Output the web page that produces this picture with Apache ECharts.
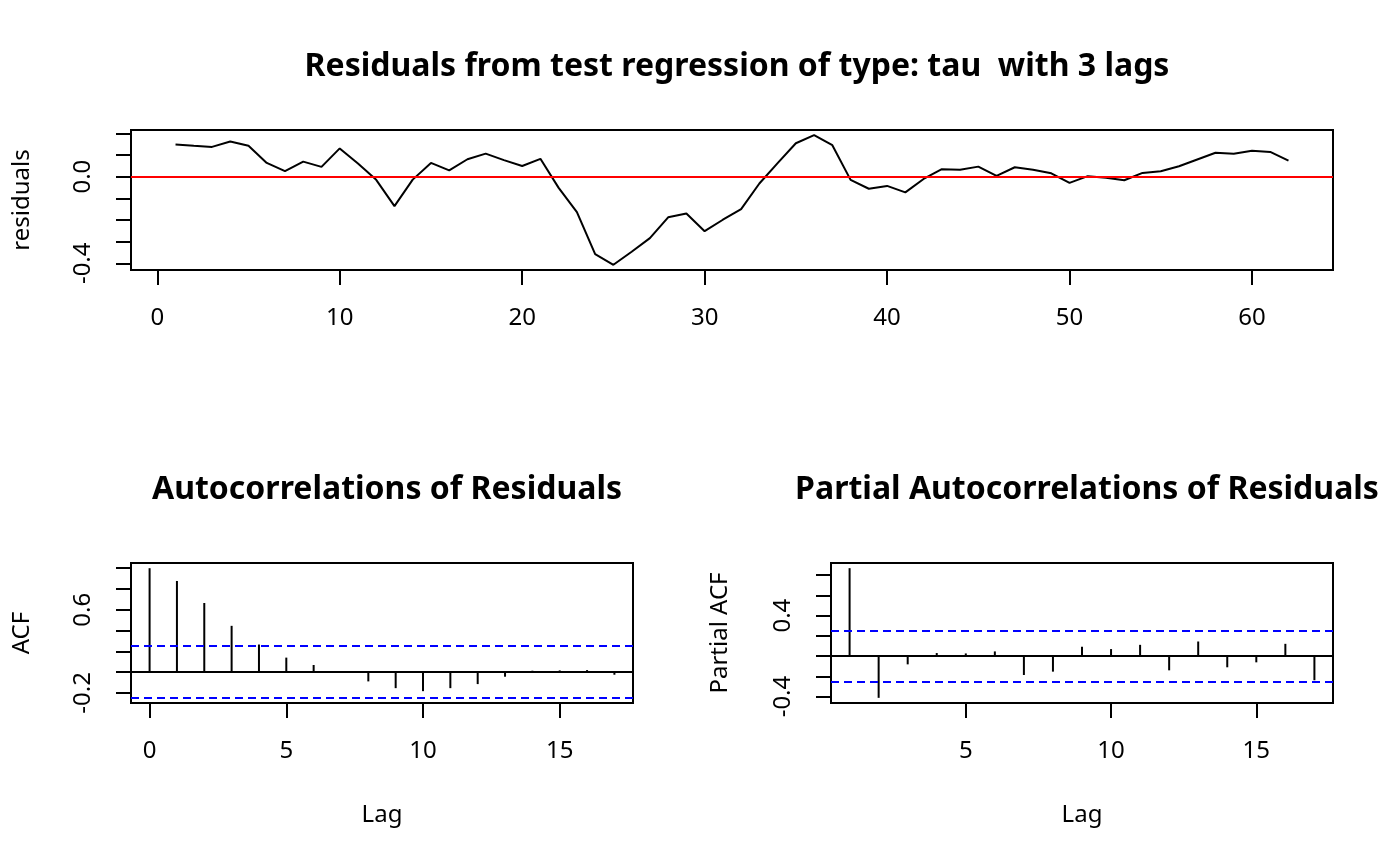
<!DOCTYPE html>
<html>
<head>
<meta charset="utf-8">
<script src="https://cdn.jsdelivr.net/npm/echarts@6/dist/echarts.min.js"></script>
<style>
html,body{margin:0;padding:0;background:#fff;}
#chart{width:1400px;height:866px;}
</style>
</head>
<body>
<div id="chart"></div>
<script>
// Residuals (time index 1..62)
const residuals = [0.148, 0.142, 0.137, 0.162, 0.142, 0.063, 0.025, 0.069, 0.045, 0.130,
  0.060, -0.015, -0.136, -0.014, 0.063, 0.029, 0.080, 0.106, 0.076, 0.049,
  0.082, -0.052, -0.164, -0.358, -0.407, -0.347, -0.284, -0.188, -0.170, -0.252,
  -0.199, -0.150, -0.032, 0.062, 0.154, 0.191, 0.145, -0.015, -0.056, -0.043,
  -0.073, -0.011, 0.034, 0.032, 0.046, 0.003, 0.043, 0.032, 0.015, -0.029,
  0.002, -0.005, -0.017, 0.017, 0.025, 0.048, 0.079, 0.110, 0.105, 0.119,
  0.114, 0.074];
// ACF, lags 0..17
const acfLags = [0,1,2,3,4,5,6,7,8,9,10,11,12,13,14,15,16,17];
const acfValues = [1.0, 0.877, 0.665, 0.445, 0.265, 0.139, 0.068, 0.006, -0.09, -0.155,
  -0.184, -0.155, -0.116, -0.045, 0.013, 0.016, 0.019, -0.026];
// PACF, lags 1..17
const pacfLags = [1,2,3,4,5,6,7,8,9,10,11,12,13,14,15,16,17];
const pacfValues = [0.869, -0.413, -0.082, 0.03, 0.026, 0.046, -0.187, -0.154, 0.092, 0.069,
  0.111, -0.141, 0.144, -0.111, -0.062, 0.121, -0.239];
const ciBound = 0.249;

// Tick labels
const resXTicks = [0,10,20,30,40,50,60];
const resYTicks = [-0.4,-0.3,-0.2,-0.1,0.0,0.1,0.2];
const resYLabels = [-0.4, 0.0];
const acfXTicks = [0,5,10,15];
const acfYTicks = [-0.2,0,0.2,0.4,0.6,0.8,1.0];
const acfYLabels = [-0.2, 0.6];
const pacfXTicks = [5,10,15];
const pacfYTicks = [-0.4,-0.2,0,0.2,0.4,0.6,0.8];
const pacfYLabels = [-0.4, 0.4];

const mainTitle = 'Residuals from test regression of type: tau  with 3 lags';
const acfTitle = 'Autocorrelations of Residuals';
const pacfTitle = 'Partial Autocorrelations of Residuals';

const FONT = 'Noto Sans';
const FS = 24;
const TFS = 32;
const LW = 2;

function xAxisDef(gi, min, max, ticks, name) {
  return {
    type: 'value', gridIndex: gi, min: min, max: max,
    splitLine: {show: false},
    axisLine: {show: false, onZero: false},
    axisTick: {show: true, inside: false, length: 15, customValues: ticks,
      lineStyle: {color: '#000', width: LW}},
    axisLabel: {show: true, customValues: ticks, margin: 36, color: '#000',
      fontFamily: FONT, fontSize: FS, formatter: v => String(Math.round(v))},
    name: name || '', nameLocation: 'middle', nameGap: 100,
    nameTextStyle: {color: '#000', fontFamily: FONT, fontSize: FS}
  };
}
function yAxisDef(gi, min, max, ticks, labels, name, gap) {
  return {
    type: 'value', gridIndex: gi, min: min, max: max,
    splitLine: {show: false},
    axisLine: {show: false, onZero: false},
    axisTick: {show: true, inside: false, length: 15, customValues: ticks,
      lineStyle: {color: '#000', width: LW}},
    axisLabel: {show: true, customValues: labels, rotate: 90, margin: 36, color: '#000',
      fontFamily: FONT, fontSize: FS, formatter: v => v.toFixed(1)},
    name: name, nameLocation: 'middle', nameRotate: 90, nameGap: gap,
    nameTextStyle: {color: '#000', fontFamily: FONT, fontSize: FS}
  };
}

const ciLines = {
  silent: true, symbol: 'none', label: {show: false},
  data: [
    {yAxis: 0, lineStyle: {color: '#000', type: 'solid', width: LW}},
    {yAxis: ciBound, lineStyle: {color: '#0000ff', type: [8, 5], width: LW}},
    {yAxis: -ciBound, lineStyle: {color: '#0000ff', type: [8, 5], width: LW}}
  ]
};

const chart = echarts.init(document.getElementById('chart'), null, {renderer: 'canvas'});
chart.setOption({
  backgroundColor: '#fff',
  animation: false,
  title: [
    {text: mainTitle, left: 732, top: 46, textAlign: 'center',
      textStyle: {fontFamily: FONT, fontSize: TFS, fontWeight: 'bold', color: '#000'}},
    {text: acfTitle, left: 382, top: 469, textAlign: 'center',
      textStyle: {fontFamily: FONT, fontSize: TFS, fontWeight: 'bold', color: '#000'}},
    {text: pacfTitle, left: 1082, top: 469, textAlign: 'center',
      textStyle: {fontFamily: FONT, fontSize: TFS, fontWeight: 'bold', color: '#000'}}
  ],
  grid: [
    {left: 131, top: 130, width: 1202, height: 140, show: true, borderColor: '#000', borderWidth: LW, backgroundColor: 'transparent'},
    {left: 131, top: 563, width: 502, height: 140, show: true, borderColor: '#000', borderWidth: LW, backgroundColor: 'transparent'},
    {left: 831, top: 563, width: 502, height: 140, show: true, borderColor: '#000', borderWidth: LW, backgroundColor: 'transparent'}
  ],
  xAxis: [
    xAxisDef(0, -1.44, 64.44, resXTicks, ''),
    xAxisDef(1, -0.68, 17.68, acfXTicks, 'Lag'),
    xAxisDef(2, 0.36, 17.64, pacfXTicks, 'Lag')
  ],
  yAxis: [
    yAxisDef(0, -0.431, 0.215, resYTicks, resYLabels, 'residuals', 97),
    yAxisDef(1, -0.298, 1.05, acfYTicks, acfYLabels, 'ACF', 97),
    yAxisDef(2, -0.464, 0.92, pacfYTicks, pacfYLabels, 'Partial ACF', 99)
  ],
  series: [
    {
      type: 'line', xAxisIndex: 0, yAxisIndex: 0,
      data: residuals.map((v, i) => [i + 1, v]),
      showSymbol: false, symbol: 'none',
      lineStyle: {color: '#000', width: LW}, itemStyle: {color: '#000'},
      markLine: {silent: true, symbol: 'none', label: {show: false},
        data: [{yAxis: 0, lineStyle: {color: '#ff0000', type: 'solid', width: LW}}]}
    },
    {
      type: 'bar', xAxisIndex: 1, yAxisIndex: 1,
      data: acfLags.map((l, i) => [l, acfValues[i]]),
      barWidth: 2, itemStyle: {color: '#000'},
      markLine: ciLines
    },
    {
      type: 'bar', xAxisIndex: 2, yAxisIndex: 2,
      data: pacfLags.map((l, i) => [l, pacfValues[i]]),
      barWidth: 2, itemStyle: {color: '#000'},
      markLine: ciLines
    }
  ]
});
</script>
</body>
</html>
